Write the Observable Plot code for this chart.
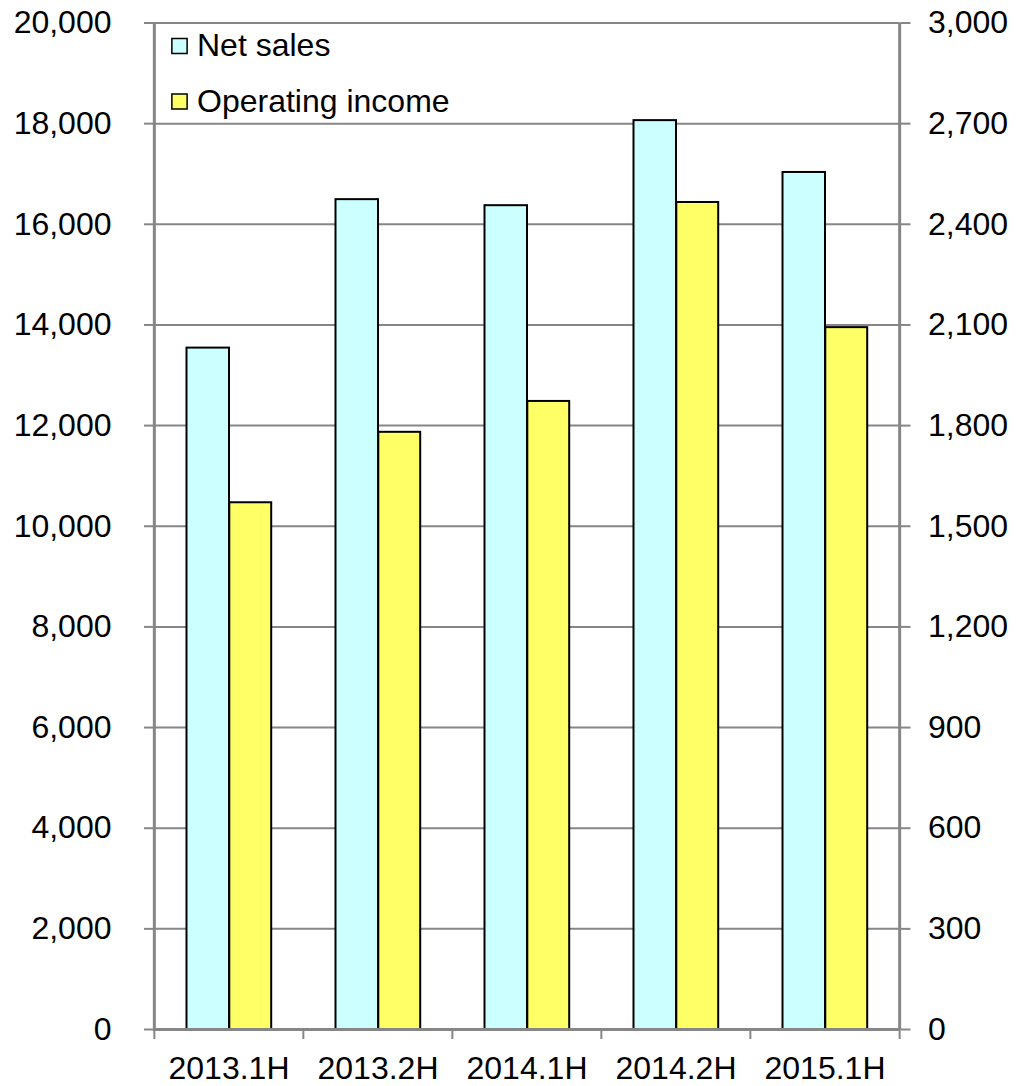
<!DOCTYPE html>
<html>
<head>
<meta charset="utf-8">
<script src="https://cdn.jsdelivr.net/npm/d3@7"></script>
<script src="https://cdn.jsdelivr.net/npm/@observablehq/plot@0.6"></script>
<style>
  html, body { margin: 0; padding: 0; background: #fff; }
</style>
</head>
<body>
<div id="chart"></div>
<script>
const categories = ["2013.1H", "2013.2H", "2014.1H", "2014.2H", "2015.1H"];
const netSales = [13540, 16490, 16370, 18060, 17030];
const operatingIncome = [1570, 1780, 1872, 2465, 2092];
const seriesNames = ["Net sales", "Operating income"];
const leftTicks = [0, 2000, 4000, 6000, 8000, 10000, 12000, 14000, 16000, 18000, 20000];
const leftMax = 20000;
const rightMax = 3000;

const rows = categories.map((c, i) => ({cat: c, net: netSales[i], op: operatingIncome[i]}));

const W = 1016, H = 1086;
const mL = 153, mR = 116.5, mT = 22.5, mB = 57;
const bw = (W - mL - mR) / categories.length;
const plotH = H - mT - mB;
const gray = "#868686";
const fmt = d3.format(",");

const chart = Plot.plot({
  width: W,
  height: H,
  marginLeft: mL,
  marginRight: mR,
  marginTop: mT,
  marginBottom: mB,
  style: {fontFamily: "'Liberation Sans', Arial, sans-serif", fontSize: "32px", color: "#000", background: "#fff"},
  x: {type: "band", domain: categories, padding: 0, label: null},
  y: {domain: [0, leftMax], label: null},
  marks: [
    Plot.gridY(leftTicks, {stroke: gray, strokeOpacity: 1, strokeWidth: 2}),
    Plot.barY(rows, {x: "cat", y: "net", fill: "#CCFFFF", stroke: "#000", strokeWidth: 2,
      insetLeft: 32.5, insetRight: bw - 75.3}),
    Plot.barY(rows, {x: "cat", y: d => d.op * leftMax / rightMax, fill: "#FFFF66", stroke: "#000", strokeWidth: 2,
      insetLeft: 75.3, insetRight: bw - 117.5}),
    // axis lines
    Plot.ruleX([categories[0]], {dx: -bw / 2, stroke: gray, strokeWidth: 3}),
    Plot.ruleX([categories[categories.length - 1]], {dx: bw / 2, stroke: gray, strokeWidth: 3}),
    Plot.ruleY([0], {stroke: gray, strokeWidth: 3}),
    // bottom boundary ticks
    Plot.ruleX(categories, {dx: -bw / 2, stroke: gray, strokeWidth: 2, insetTop: plotH, insetBottom: -10}),
    Plot.ruleX([categories[categories.length - 1]], {dx: bw / 2, stroke: gray, strokeWidth: 2, insetTop: plotH, insetBottom: -10}),
    Plot.axisX({tickSize: 0, tickPadding: 27, label: null, fill: "#000"}),
    Plot.axisY(leftTicks, {anchor: "left", tickSize: 9, tickPadding: 33, tickFormat: fmt, stroke: gray, strokeWidth: 2, fill: "#000", label: null}),
    Plot.axisY(leftTicks, {anchor: "right", tickSize: 10, tickPadding: 18, tickFormat: d => fmt(d * rightMax / leftMax), stroke: gray, strokeWidth: 2, fill: "#000", label: null}),
    // legend
    Plot.dot([seriesNames[0]], {frameAnchor: "top-left", dx: 26, dy: 23, symbol: "square", r: 8.6, fill: "#CCFFFF", stroke: "#000", strokeWidth: 1.5}),
    Plot.text([seriesNames[0]], {frameAnchor: "top-left", dx: 43.5, dy: 23, text: d => d, textAnchor: "start", lineAnchor: "middle", fill: "#000"}),
    Plot.dot([seriesNames[1]], {frameAnchor: "top-left", dx: 26, dy: 78.5, symbol: "square", r: 8.6, fill: "#FFFF66", stroke: "#000", strokeWidth: 1.5}),
    Plot.text([seriesNames[1]], {frameAnchor: "top-left", dx: 43.5, dy: 78.5, text: d => d, textAnchor: "start", lineAnchor: "middle", fill: "#000"})
  ]
});
document.getElementById("chart").append(chart);
</script>
</body>
</html>
